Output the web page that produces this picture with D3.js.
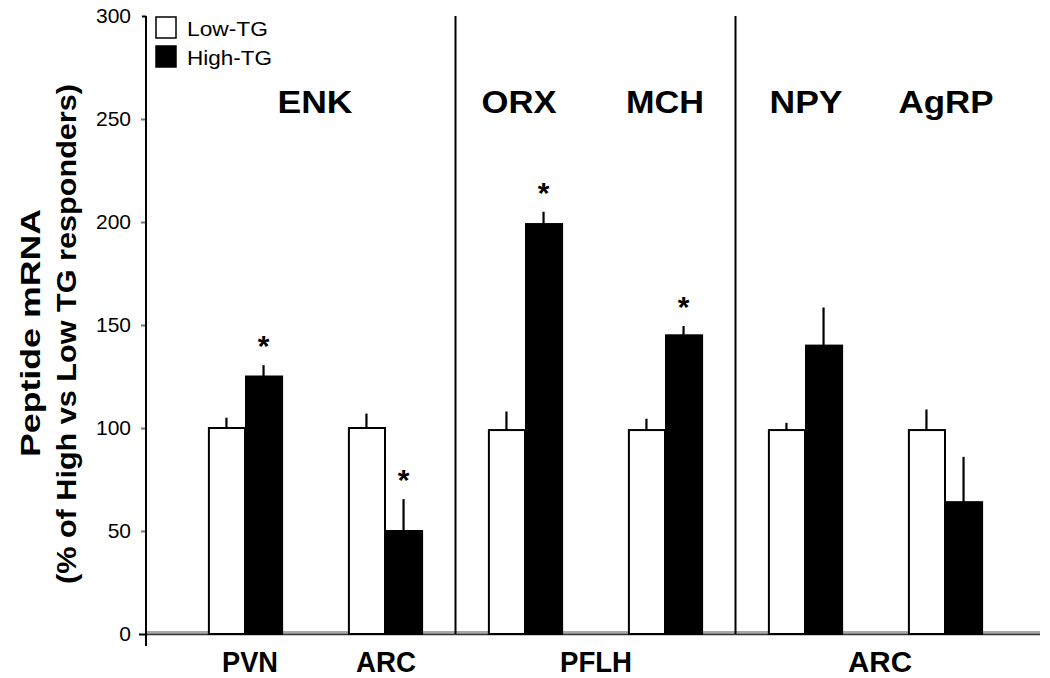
<!DOCTYPE html>
<html>
<head>
<meta charset="utf-8">
<script src="https://cdn.jsdelivr.net/npm/d3@7"></script>
<style>
  html, body { margin: 0; padding: 0; background: #fff; }
  svg { display: block; font-family: Arial, "Liberation Sans", Helvetica, sans-serif; }
</style>
</head>
<body>
<svg id="chart" width="1050" height="678"></svg>
<script>
// ---- data ----
const categories = ["ENK-PVN", "ENK-ARC", "ORX", "MCH", "NPY", "AgRP"];
const series = ["Low-TG", "High-TG"];
const lowValues  = [100, 100, 99, 99, 99, 99];
const lowErrors  = [5, 7, 9, 5.5, 3.5, 10];
const highValues = [125, 50, 199, 145, 140, 64];
const highErrors = [5.5, 15.5, 6, 4.5, 18.5, 22];
const significant = [true, true, true, true, false, false];
const peptideLabels = [
  { text: "ENK", from: 0, to: 1 },
  { text: "ORX", from: 2, to: 2 },
  { text: "MCH", from: 3, to: 3 },
  { text: "NPY", from: 4, to: 4 },
  { text: "AgRP", from: 5, to: 5 }
];
const regionLabels = [
  { text: "PVN", from: 0, to: 0 },
  { text: "ARC", from: 1, to: 1 },
  { text: "PFLH", from: 2, to: 3 },
  { text: "ARC", from: 4, to: 5 }
];
const dividersAfter = [1, 3];
const yTicks = [0, 50, 100, 150, 200, 250, 300];

// ---- layout ----
const svg = d3.select("#chart");
const axisX = 146, y0 = 634, yTop = 16, baseEnd = 1040;

const y = d3.scaleLinear().domain([0, 300]).range([y0, yTop]);
const x = d3.scaleBand().domain(categories).range([175, 1015])
  .paddingInner(0.47).paddingOuter(0.235);
const xs = d3.scaleBand().domain(series).range([0, x.bandwidth()]);
const center = i => x(categories[i]) + x.bandwidth() / 2;

// baseline (gray band + dark line)
svg.append("line").attr("x1", axisX).attr("x2", baseEnd)
  .attr("y1", y(0) - 1.5).attr("y2", y(0) - 1.5)
  .attr("stroke", "#a8a8a8").attr("stroke-width", 3);
svg.append("line").attr("x1", axisX).attr("x2", baseEnd)
  .attr("y1", y(0) + 0.5).attr("y2", y(0) + 0.5)
  .attr("stroke", "#333").attr("stroke-width", 1.5);

// dividers
dividersAfter.forEach(i => {
  const xd = Math.round((center(i) + center(i + 1)) / 2) + 0.5;
  svg.append("line").attr("x1", xd).attr("x2", xd)
    .attr("y1", y(300)).attr("y2", y(0))
    .attr("stroke", "#000").attr("stroke-width", 2);
});

// y axis
const yAxis = d3.axisLeft(y).tickValues(yTicks).tickSize(5).tickPadding(10);
const gy = svg.append("g").attr("transform", `translate(${axisX},0)`).call(yAxis);
gy.select(".domain").remove();
gy.selectAll(".tick line").attr("stroke", "#777").attr("stroke-width", 2);
gy.selectAll(".tick").filter(d => d === 0).select("line").attr("stroke", "#000").attr("x2", -7);
gy.selectAll(".tick").filter(d => d === 300).select("line").attr("stroke", "#000").attr("x2", -4);
gy.selectAll(".tick text").attr("font-size", 21).attr("fill", "#000")
  .attr("font-family", "Arial, 'Liberation Sans', sans-serif");
svg.append("line").attr("x1", axisX).attr("x2", axisX)
  .attr("y1", y(300)).attr("y2", y0 + 12)
  .attr("stroke", "#000").attr("stroke-width", 2);

// bars
const rows = categories.map((c, i) => ({
  c, i,
  bars: [
    { s: "Low-TG", v: lowValues[i], e: lowErrors[i] },
    { s: "High-TG", v: highValues[i], e: highErrors[i] }
  ]
}));

const g = svg.append("g");
rows.forEach(r => {
  r.bars.forEach(b => {
    const bx = x(r.c) + xs(b.s);
    g.append("line")
      .attr("x1", bx + xs.bandwidth() / 2).attr("x2", bx + xs.bandwidth() / 2)
      .attr("y1", y(b.v)).attr("y2", y(b.v + b.e))
      .attr("stroke", "#000").attr("stroke-width", 2.2);
    g.append("rect")
      .attr("x", bx + 1).attr("y", y(b.v))
      .attr("width", xs.bandwidth() - 1).attr("height", y(0) - y(b.v))
      .attr("fill", b.s === "Low-TG" ? "#fff" : "#000")
      .attr("stroke", "#000").attr("stroke-width", 2);
  });
  if (significant[r.i]) {
    const hb = r.bars[1];
    g.append("text")
      .attr("x", x(r.c) + xs("High-TG") + xs.bandwidth() / 2)
      .attr("y", y(hb.v + hb.e) - 26 + 17)
      .attr("text-anchor", "middle")
      .attr("font-size", 30).attr("font-weight", "bold")
      .text("*");
  }
});

// peptide labels (top)
const topLens = { ENK: 75, ORX: 75, MCH: 78, NPY: 73, AgRP: 95 };
peptideLabels.forEach(p => {
  svg.append("text")
    .attr("x", (center(p.from) + center(p.to)) / 2 - (p.text === "ORX" ? 6 : p.text === "AgRP" ? -1 : p.text === "NPY" ? -1 : 0))
    .attr("y", 113)
    .attr("text-anchor", "middle")
    .attr("font-size", 31).attr("font-weight", "bold")
    .attr("textLength", topLens[p.text]).attr("lengthAdjust", "spacingAndGlyphs")
    .text(p.text);
});

// region labels (bottom)
const botLens = [56, 60, 72, 64];
const botShift = [5, 1, 1, 5];
regionLabels.forEach((p, i) => {
  svg.append("text")
    .attr("x", (center(p.from) + center(p.to)) / 2 + botShift[i])
    .attr("y", 672)
    .attr("text-anchor", "middle")
    .attr("font-size", 29).attr("font-weight", "bold")
    .attr("textLength", botLens[i]).attr("lengthAdjust", "spacingAndGlyphs")
    .text(p.text);
});

// y axis title
svg.append("text")
  .attr("transform", "translate(40,333) rotate(-90)")
  .attr("text-anchor", "middle")
  .attr("font-size", 27).attr("font-weight", "bold")
  .attr("textLength", 248).attr("lengthAdjust", "spacingAndGlyphs")
  .text("Peptide mRNA");
svg.append("text")
  .attr("transform", "translate(76,334) rotate(-90)")
  .attr("text-anchor", "middle")
  .attr("font-size", 27).attr("font-weight", "bold")
  .attr("textLength", 500).attr("lengthAdjust", "spacingAndGlyphs")
  .text("(% of High vs Low TG responders)");

// legend
const legLens = [81, 85];
series.forEach((s, i) => {
  const ly = 17 + i * 29;
  svg.append("rect").attr("x", 156).attr("y", ly)
    .attr("width", 20).attr("height", 21)
    .attr("fill", i === 0 ? "#fff" : "#000")
    .attr("stroke", "#000").attr("stroke-width", 1.5);
  svg.append("text").attr("x", 187).attr("y", ly + 19)
    .attr("font-size", 21)
    .attr("textLength", legLens[i]).attr("lengthAdjust", "spacingAndGlyphs")
    .text(s);
});
</script>
</body>
</html>
